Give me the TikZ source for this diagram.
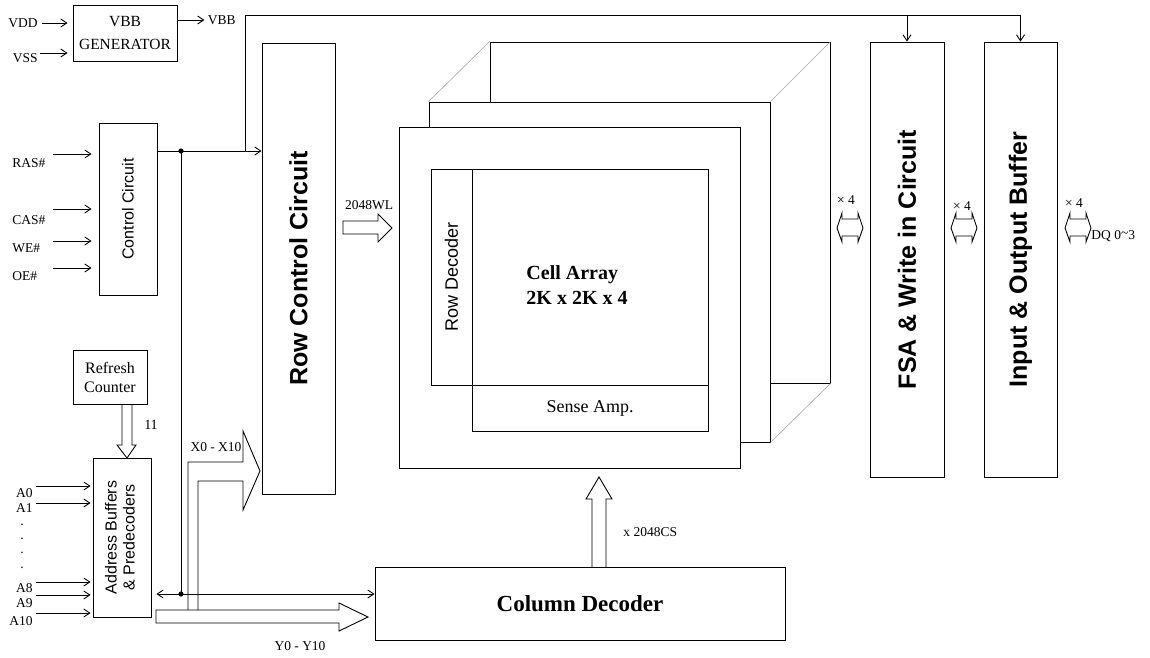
\documentclass[tikz,border=0pt]{standalone}
\usepackage{fontspec}
\usepackage{graphicx}
\setmainfont{Liberation Serif}
\setsansfont{Liberation Sans}
\usetikzlibrary{arrows.meta}
\newcommand{\fs}[2]{\fontsize{#1}{#2}\selectfont}

\begin{document}
\begin{tikzpicture}[x=1pt,y=-1pt,line width=0.9pt,
    >={Straight Barb[length=6pt,width=8pt]},
    box/.style={draw,inner sep=0pt,fill=white},
    lbl/.style={inner sep=0pt,font=\fs{13.5}{15}},
    big/.style={font=\sffamily\bfseries\fs{25}{30}},
    diag/.style={gray!70,line width=0.6pt}]
  \useasboundingbox (0,0) rectangle (1150,657);

  % VBB generator
  \node[box,minimum width=104,minimum height=56,align=center,font=\fs{15.5}{23}] (vbbgen) at (125,33) {VBB\\GENERATOR};
  \node[lbl,anchor=east] (vdd) at (38,23) {VDD};
  \node[lbl,anchor=east] (vss) at (38,58) {VSS};
  \coordinate (vdd-s) at (42,23);
  \coordinate (vss-s) at (40,53);
  \draw[->,shorten >=5pt] (vdd-s) -- (vdd-s -| vbbgen.west);
  \draw[->,shorten >=5pt] (vss-s) -- (vss-s -| vbbgen.west);
  \coordinate (vbb-o) at (vbbgen.east |- 0,20);
  \draw[->] (vbb-o) -- ++(27,0) node[lbl,anchor=west,xshift=3pt] (vbb) {VBB};

  % blocks
  \node[box,minimum width=58,minimum height=172,font=\sffamily\fs{16}{19}] (ctrl) at (128,209) {\rotatebox{90}{Control Circuit}};
  \node[box,minimum width=73,minimum height=451,big] (rowctrl) at (298.5,268.5) {\rotatebox{90}{Row Control Circuit}};
  \node[box,minimum width=74,minimum height=435,big] (fsa) at (907,259.5) {\rotatebox{90}{FSA \& Write in Circuit}};
  \node[box,minimum width=73,minimum height=435,big] (iobuf) at (1020.5,259.5) {\rotatebox{90}{Input \& Output Buffer}};
  \node[box,minimum width=74,minimum height=54,align=center,font=\fs{16}{19}] (refresh) at (110,377) {Refresh\\Counter};
  \node[box,minimum width=58,minimum height=159,font=\sffamily\fs{16}{18}] (addr) at (122,537.5) {\rotatebox{90}{\begin{tabular}{@{}c@{}}Address Buffers\\\& Predecoders\end{tabular}}};
  \node[box,minimum width=410,minimum height=73,font=\bfseries\fs{23}{27}] (coldec) at (580,603.5) {Column Decoder};

  % cell array planes
  \node[box,minimum width=340,minimum height=341] (back) at (660,212.5) {};
  \node[box,minimum width=341,minimum height=340] (mid) at (599.5,272) {};
  \draw[diag] (mid.north west) -- (back.north west);
  \draw[diag] (mid.north east) -- (back.north east);
  \draw[diag] (mid.south east) -- (back.south east);
  \node[box,minimum width=341,minimum height=341] (front) at (569.5,297.5) {};
  \node[box,minimum width=41,minimum height=216,font=\sffamily\fs{18}{21}] (rowdec) at (451.5,277) {\rotatebox{90}{Row Decoder}};
  \node[box,minimum width=236,minimum height=216] (cell) at (590,277) {};
  \node[box,minimum width=236,minimum height=46,font=\fs{18}{21}] (sense) at (590,408) {Sense Amp.};
  \node[align=left,anchor=west,inner sep=0pt,font=\bfseries\fs{20}{25}] (celltxt) at (526,285) {Cell Array\\2K x 2K x 4};

  % control inputs
  \foreach \n/\t/\y/\ly in {ras/RAS\#/154/163, cas/CAS\#/209/220, we/WE\#/241/248, oe/OE\#/268/276}{
    \node[lbl,anchor=west] (\n) at (12,\ly) {\t};
    \coordinate (\n-s) at (53,\y);
    \draw[->,shorten >=7pt] (\n-s) -- (\n-s -| ctrl.west);
  }

  % address inputs
  \foreach \n/\y/\ly in {A0/486/493, A1/503/508, A8/582/588, A9/595/603, A10/613/621}{
    \node[lbl,anchor=east] (\n) at (33,\ly) {\n};
    \coordinate (\n-s) at (36,\y);
    \draw[->,shorten >=2pt] (\n-s) -- (\n-s -| addr.west);
  }
  \foreach \y in {525,539,553,568}
    \node[lbl] (dot\y) at (22,\y) {.};

  % control bus
  \coordinate (j1) at (181,151);
  \coordinate (j2) at (181,594);
  \coordinate (bus) at (245,15);
  \draw[->] (ctrl.east |- j1) -- (rowctrl.west |- j1);
  \draw[->] (bus |- j1) -- (bus) -- (bus -| iobuf.north) -- (iobuf.north);
  \draw[->] (bus -| fsa.north) -- (fsa.north);
  \draw (j1) -- (j2);
  \draw[->] (j2) -- ([xshift=5pt]addr.east |- j2);
  \draw[->] (j2) -- (coldec.west |- j2);
  \fill (j1) circle (2.6);
  \fill (j2) circle (2.6);

  % wide arrows
  \draw (122,404) -- (122,445) -- (117,445) -- (127,458) -- (136,445) -- (132,445) -- (132,404);
  \node[lbl,font=\fs{14}{16}] (cnt) at (151,425) {11};
  \draw (156,610) -- (339,610) -- (339,603) -- (368,617) -- (339,631) -- (339,623) -- (156,623) -- cycle;
  \node[lbl] (ylbl) at (300,646) {Y0 - Y10};
  \draw (188,610) -- (188,462) -- (243,462) -- (243,431) -- (260,471) -- (243,510) -- (243,481) -- (198,481) -- (198,610);
  \node[lbl] (xlbl) at (216,447) {X0 - X10};
  \draw (343,221) -- (378,221) -- (378,214) -- (392,228) -- (378,242) -- (378,234) -- (343,234) -- cycle;
  \node[lbl] (wl) at (369,205) {2048WL};
  \draw (592,567) -- (592,499) -- (586,499) -- (599,477) -- (612,499) -- (606,499) -- (606,567);
  \node[lbl,anchor=west] (cs) at (623,532) {x 2048CS};

  % data path
  \foreach \x in {837,951,1065}
    \draw (\x,228) -- (\x+5,213) -- (\x+5,219) -- (\x+21,219) -- (\x+21,213) -- (\x+26,228)
      -- (\x+21,242) -- (\x+21,236) -- (\x+5,236) -- (\x+5,242) -- cycle;
  \node[lbl] (x4a) at (846,200) {× 4};
  \node[lbl] (x4b) at (962,206) {× 4};
  \node[lbl] (x4c) at (1074,203) {× 4};
  \node[lbl,anchor=west] (dq) at (1091,236) {DQ 0\raisebox{2pt}{\textasciitilde}3};
\end{tikzpicture}
\end{document}
